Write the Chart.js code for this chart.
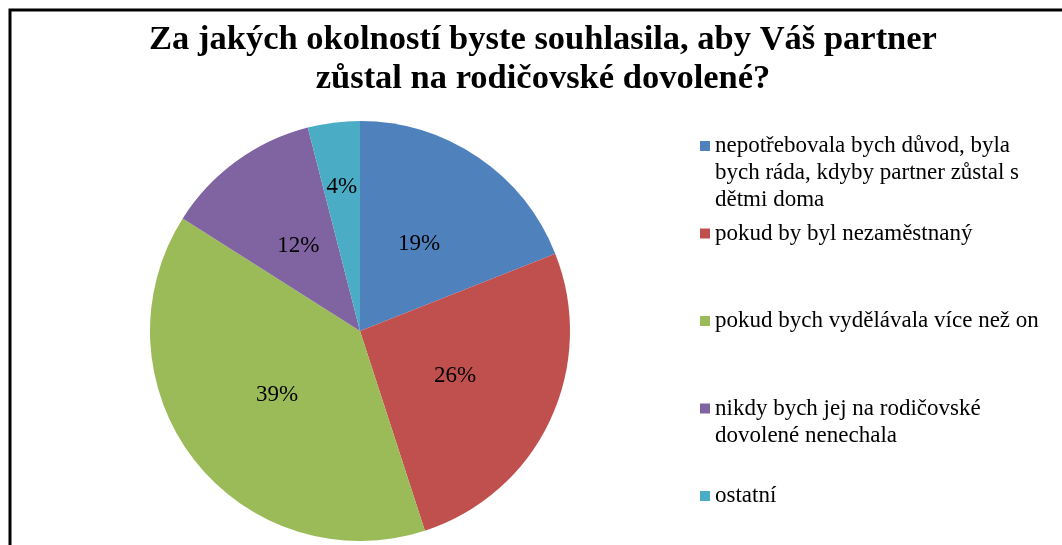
<!DOCTYPE html>
<html>
<head>
<meta charset="utf-8">
<script src="https://cdn.jsdelivr.net/npm/chart.js@4.4.1/dist/chart.umd.min.js"></script>
<style>
  html, body { margin: 0; padding: 0; background: #ffffff; overflow: hidden; }
  #wrap { position: relative; width: 1062px; height: 545px; }
  canvas { display: block; }
</style>
</head>
<body>
<div id="wrap"><canvas id="c" width="1062" height="545"></canvas></div>
<script>
// ---- Data ----
const titleLines = [
  "Za jakých okolností byste souhlasila, aby Váš partner",
  "zůstal na rodičovské dovolené?"
];
const categories = [
  ["nepotřebovala bych důvod, byla", "bych ráda, kdyby partner zůstal s", "dětmi doma"],
  ["pokud by byl nezaměstnaný"],
  ["pokud bych vydělávala více než on"],
  ["nikdy bych jej na rodičovské", "dovolené nenechala"],
  ["ostatní"]
];
const values = [19, 26, 39, 12, 4];
const colors = ["#4F81BD", "#C0504D", "#9BBB59", "#8064A2", "#4BACC6"];

// ---- Plugins ----
const framePlugin = {
  id: 'frame',
  afterDraw(chart) {
    const ctx = chart.ctx;
    ctx.save();
    ctx.strokeStyle = '#000';
    ctx.lineWidth = 3;
    ctx.beginPath();
    ctx.moveTo(10, 545);
    ctx.lineTo(10, 10);
    ctx.lineTo(1062, 10);
    ctx.stroke();
    ctx.restore();
  }
};

const titlePlugin = {
  id: 'customTitle',
  afterDraw(chart, args, opts) {
    const ctx = chart.ctx;
    ctx.save();
    ctx.fillStyle = '#000';
    ctx.font = opts.font;
    ctx.textAlign = 'center';
    ctx.textBaseline = 'alphabetic';
    opts.lines.forEach((t, i) => ctx.fillText(t, opts.x, opts.y + i * opts.lineHeight));
    ctx.restore();
  }
};

const labelPlugin = {
  id: 'sliceLabels',
  afterDatasetsDraw(chart, args, opts) {
    const ctx = chart.ctx;
    const meta = chart.getDatasetMeta(0);
    const data = chart.data.datasets[0].data;
    const total = data.reduce((a, b) => a + b, 0);
    ctx.save();
    ctx.fillStyle = '#000';
    ctx.font = opts.font;
    ctx.textAlign = 'center';
    ctx.textBaseline = 'middle';
    meta.data.forEach((arc, i) => {
      const p = arc.getProps(['x', 'y', 'startAngle', 'endAngle', 'outerRadius'], true);
      const mid = (p.startAngle + p.endAngle) / 2;
      const pct = data[i] / total * 100;
      const f = pct < 5 ? opts.smallFraction : opts.fraction;
      const r = p.outerRadius * f;
      ctx.fillText(Math.round(pct) + '%', p.x + Math.cos(mid) * r, p.y + Math.sin(mid) * r);
    });
    ctx.restore();
  }
};

const legendPlugin = {
  id: 'customLegend',
  afterDraw(chart, args, opts) {
    const ctx = chart.ctx;
    ctx.save();
    ctx.font = opts.font;
    ctx.textAlign = 'left';
    ctx.textBaseline = 'alphabetic';
    const labels = chart.data.labels;
    const bg = chart.data.datasets[0].backgroundColor;
    labels.forEach((lines, i) => {
      const base = opts.startY + i * opts.step;
      ctx.fillStyle = bg[i];
      ctx.fillRect(opts.boxX, base - 11, opts.boxSize, opts.boxSize);
      ctx.fillStyle = '#000';
      lines.forEach((t, j) => ctx.fillText(t, opts.textX, base + j * opts.lineHeight));
    });
    ctx.restore();
  }
};

new Chart(document.getElementById('c'), {
  type: 'pie',
  data: {
    labels: categories,
    datasets: [{
      data: values,
      backgroundColor: colors,
      borderWidth: 0
    }]
  },
  options: {
    responsive: false,
    animation: false,
    layout: { padding: { top: 121, bottom: 4, left: 150, right: 492 } },
    plugins: {
      legend: { display: false },
      title: { display: false },
      tooltip: { enabled: false },
      customTitle: {
        lines: titleLines,
        font: 'bold 34.5px "Liberation Serif", "Times New Roman", serif',
        x: 543, y: 49, lineHeight: 39
      },
      sliceLabels: {
        font: '23px "Liberation Serif", "Times New Roman", serif',
        fraction: 0.5, smallFraction: 0.69
      },
      customLegend: {
        font: '23px "Liberation Serif", "Times New Roman", serif',
        boxX: 700, boxSize: 10, textX: 715,
        startY: 152, step: 87.5, lineHeight: 27
      }
    }
  },
  plugins: [framePlugin, titlePlugin, labelPlugin, legendPlugin]
});
</script>
</body>
</html>
